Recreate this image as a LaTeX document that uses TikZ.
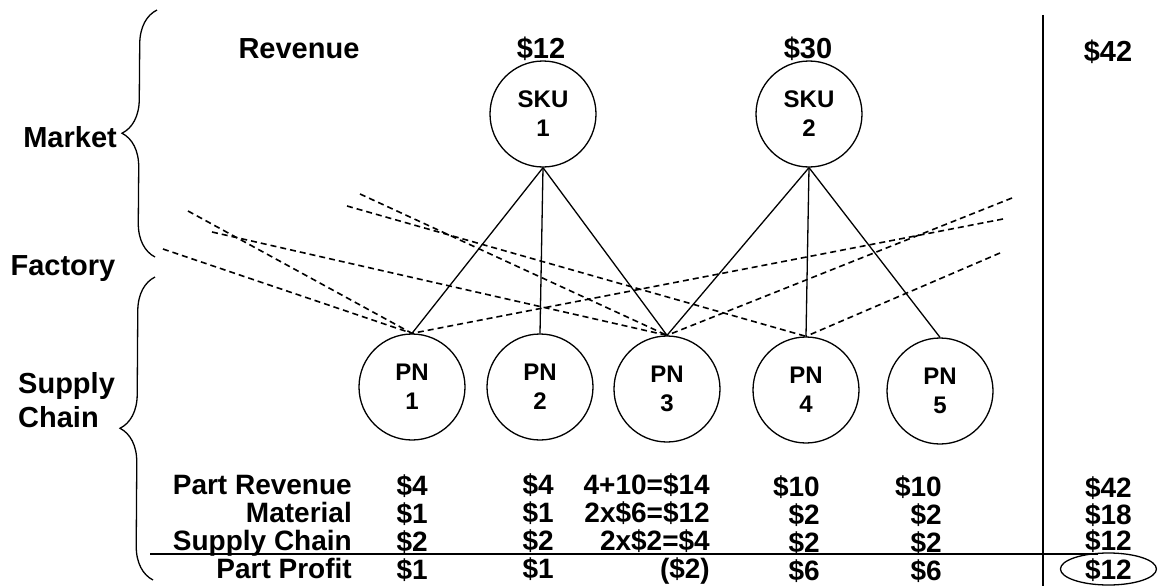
\documentclass[tikz,border=0pt]{standalone}
\usepackage{fontspec}
\setmainfont{Liberation Sans}
\usetikzlibrary{decorations.pathreplacing}

\begin{document}
\begin{tikzpicture}[
  x=1pt, y=-1pt,
  txt/.style     = {font=\fontsize{29}{34}\selectfont\bfseries, inner sep=0pt, text height=21pt, text depth=0pt},
  cell/.style    = {font=\fontsize{28}{32}\selectfont\bfseries, inner sep=0pt, text height=20pt, text depth=0pt, anchor=east},
  circ/.style    = {draw, circle, line width=1.3pt, minimum size=106pt, inner sep=0pt, align=center,
                    font=\fontsize{24}{29}\selectfont\bfseries},
  link/.style    = {line width=1.3pt},
  feed/.style    = {line width=1.6pt, dash pattern=on 6pt off 4pt},
  bracket/.style = {decorate, decoration={brace, amplitude=34pt}, line width=1.3pt}
]

  \useasboundingbox (0,0) rectangle (1161,586);

  % level labels and braces
  \node[txt, anchor=east] (market) at (117,137) {Market};
  \node[txt] (factory) at (63,265) {Factory};
  \node[anchor=west, align=left, inner sep=0pt, font=\fontsize{29}{34}\selectfont\bfseries]
    (supplychain) at (18,400) {Supply\\Chain};

  \coordinate (mtop) at (157,10);
  \coordinate (mbot) at (155,257);
  \coordinate (stop) at (155,277);
  \coordinate (sbot) at (153,580);
  \draw[bracket] (mbot) -- (mtop);
  \draw[bracket] (sbot) -- (stop);

  % revenue row
  \node[txt] (revenue) at (299,48) {Revenue};
  \node[txt] (rev1) at (541,48) {\$12};
  \node[txt] (rev2) at (808,48) {\$30};
  \node[txt] (revtot) at (1108,51) {\$42};

  % SKU nodes
  \node[circ] (sku1) at (543,114) {SKU\\1};
  \node[circ] (sku2) at (809,114) {SKU\\2};

  % part number nodes
  \node[circ] (pn1) at (412,387) {PN\\1};
  \node[circ] (pn2) at (540,387) {PN\\2};
  \node[circ] (pn3) at (667,389) {PN\\3};
  \node[circ] (pn4) at (806,390) {PN\\4};
  \node[circ] (pn5) at (940,391) {PN\\5};

  % bill of material links
  \draw[link] (sku1.south) -- (pn1.north);
  \draw[link] (sku1.south) -- (pn2.north);
  \draw[link] (sku1.south) -- (pn3.north);
  \draw[link] (sku2.south) -- (pn3.north);
  \draw[link] (sku2.south) -- (pn4.north);
  \draw[link] (sku2.south) -- (pn5.north);

  % factory feeds (free ends)
  \coordinate (fa) at (188,211);
  \coordinate (fb) at (163,249);
  \coordinate (fc) at (212,232);
  \coordinate (fd) at (360,194);
  \coordinate (fe) at (347,206);
  \coordinate (ff) at (1003,219);
  \coordinate (fg) at (1012,198);
  \coordinate (fh) at (1000,253);

  \draw[feed] (fa) -- (pn1.north);
  \draw[feed] (fb) -- (pn1.north);
  \draw[feed] (ff) -- (pn1.north);
  \draw[feed] (fc) -- (pn3.north);
  \draw[feed] (fd) -- (pn3.north);
  \draw[feed] (fg) -- (pn3.north);
  \draw[feed] (fe) -- (pn4.north);
  \draw[feed] (fh) -- (pn4.north);

  % total column rule and profit rule
  \coordinate (vtop) at (1043,15);
  \coordinate (vbot) at (1043,586);
  \draw[link] (vtop) -- (vbot);
  \coordinate (hleft) at (150,554);
  \coordinate (hright) at (1098,554);
  \draw[link] (hleft) -- (hright);

  % row labels
  \node[cell] (lrev)  at (352,484) {Part Revenue};
  \node[cell] (lmat)  at (352,512) {Material};
  \node[cell] (lsc)   at (352,540) {Supply Chain};
  \node[cell] (lprof) at (352,568) {Part Profit};

  % part revenue
  \node[cell] (rev-1) at (428,485) {\$4};
  \node[cell] (rev-2) at (554,484) {\$4};
  \node[cell] (rev-3) at (710,484) {4+10=\$14};
  \node[cell] (rev-4) at (820,486) {\$10};
  \node[cell] (rev-5) at (942,486) {\$10};
  \node[cell] (rev-t) at (1132,487) {\$42};

  % material
  \node[cell] (mat-1) at (428,513) {\$1};
  \node[cell] (mat-2) at (554,512) {\$1};
  \node[cell] (mat-3) at (710,512) {2x\$6=\$12};
  \node[cell] (mat-4) at (820,514) {\$2};
  \node[cell] (mat-5) at (942,514) {\$2};
  \node[cell] (mat-t) at (1132,514) {\$18};

  % supply chain
  \node[cell] (sc-1) at (428,541) {\$2};
  \node[cell] (sc-2) at (554,540) {\$2};
  \node[cell] (sc-3) at (710,540) {2x\$2=\$4};
  \node[cell] (sc-4) at (820,542) {\$2};
  \node[cell] (sc-5) at (942,542) {\$2};
  \node[cell] (sc-t) at (1132,540) {\$12};

  % part profit
  \node[cell] (prof-1) at (428,569) {\$1};
  \node[cell] (prof-2) at (554,568) {\$1};
  \node[cell] (prof-3) at (710,568) {(\$2)};
  \node[cell] (prof-4) at (820,570) {\$6};
  \node[cell] (prof-5) at (942,570) {\$6};
  \node[cell] (prof-t) at (1132,569) {\$12};
  \draw[link] (prof-t.center) ellipse [x radius=48pt, y radius=16pt];

\end{tikzpicture}
\end{document}
